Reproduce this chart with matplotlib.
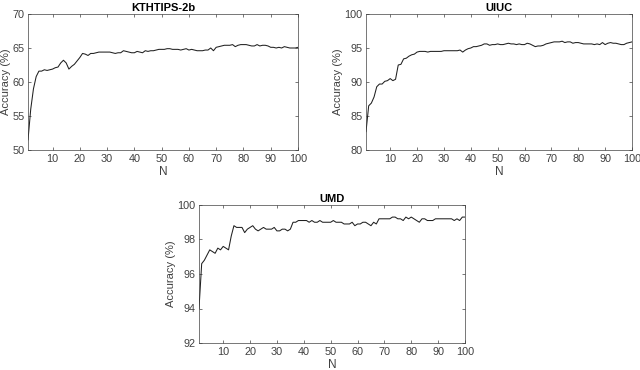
import numpy as np
import matplotlib
matplotlib.use("Agg")
import matplotlib.pyplot as plt

plt.rcParams['font.family'] = ['Liberation Sans', 'DejaVu Sans']

n = np.arange(1, 101)

kth = [51.5, 56.0, 59.0, 60.8, 61.6, 61.6, 61.8, 61.7, 61.8, 61.9,
       62.1, 62.2, 62.8, 63.2, 62.8, 61.9, 62.3, 62.6, 63.1, 63.6,
       64.2, 64.1, 63.9, 64.2, 64.2, 64.3, 64.4, 64.4, 64.4, 64.4,
       64.4, 64.3, 64.2, 64.3, 64.3, 64.6, 64.5, 64.4, 64.3, 64.3,
       64.5, 64.4, 64.3, 64.6, 64.5, 64.6, 64.6, 64.7, 64.8, 64.8,
       64.8, 64.9, 64.9, 64.8, 64.8, 64.8, 64.7, 64.8, 64.9, 64.7,
       64.8, 64.7, 64.6, 64.6, 64.6, 64.7, 64.7, 65.0, 64.6, 65.1,
       65.2, 65.3, 65.4, 65.4, 65.4, 65.5, 65.2, 65.4, 65.5, 65.5,
       65.5, 65.4, 65.3, 65.3, 65.5, 65.3, 65.4, 65.4, 65.3, 65.1,
       65.1, 65.0, 65.1, 65.0, 65.2, 65.1, 65.0, 65.0, 65.0, 65.1]

uiuc = [82.7, 86.5, 86.9, 87.8, 89.3, 89.7, 89.7, 90.1, 90.2, 90.5,
        90.2, 90.4, 92.5, 92.6, 93.4, 93.5, 93.8, 94.0, 94.1, 94.4,
        94.5, 94.5, 94.5, 94.4, 94.5, 94.5, 94.5, 94.5, 94.5, 94.6,
        94.6, 94.6, 94.6, 94.6, 94.6, 94.7, 94.4, 94.7, 94.9, 95.0,
        95.2, 95.2, 95.3, 95.4, 95.6, 95.6, 95.4, 95.5, 95.5, 95.6,
        95.5, 95.5, 95.6, 95.7, 95.6, 95.6, 95.5, 95.6, 95.5, 95.5,
        95.7, 95.6, 95.4, 95.2, 95.3, 95.3, 95.4, 95.6, 95.7, 95.8,
        95.9, 95.9, 95.9, 96.0, 95.8, 95.9, 95.9, 95.7, 95.8, 95.8,
        95.7, 95.6, 95.6, 95.6, 95.6, 95.5, 95.6, 95.5, 95.8, 95.5,
        95.7, 95.8, 95.7, 95.7, 95.6, 95.5, 95.5, 95.7, 95.8, 95.9]

umd = [94.0, 96.6, 96.8, 97.1, 97.4, 97.3, 97.2, 97.5, 97.4, 97.6,
       97.5, 97.4, 98.2, 98.8, 98.7, 98.7, 98.7, 98.4, 98.6, 98.7,
       98.8, 98.6, 98.5, 98.6, 98.7, 98.6, 98.6, 98.6, 98.7, 98.5,
       98.5, 98.6, 98.6, 98.5, 98.6, 99.0, 99.0, 99.1, 99.1, 99.1,
       99.1, 99.0, 99.1, 99.0, 99.0, 99.1, 99.0, 99.0, 99.0, 99.0,
       99.1, 99.0, 99.0, 99.0, 98.9, 98.9, 98.9, 99.0, 98.8, 98.9,
       98.9, 99.0, 99.0, 98.9, 98.8, 99.0, 98.9, 99.2, 99.2, 99.2,
       99.2, 99.2, 99.3, 99.3, 99.2, 99.2, 99.1, 99.3, 99.2, 99.3,
       99.2, 99.1, 99.0, 99.2, 99.2, 99.1, 99.1, 99.1, 99.2, 99.2,
       99.2, 99.2, 99.2, 99.2, 99.2, 99.1, 99.2, 99.1, 99.3, 99.3]

panels = [
    ("KTHTIPS-2b", kth, (50, 70), [50, 55, 60, 65, 70], [28, 150, 298, 14]),
    ("UIUC", uiuc, (80, 100), [80, 85, 90, 95, 100], [366, 150, 632, 14]),
    ("UMD", umd, (92, 100), [92, 94, 96, 98, 100], [199, 343, 465, 205]),
]

W, H = 640, 370
fig = plt.figure(figsize=(W / 100, H / 100), dpi=100)
gray = '#404040'

for title, vals, ylim, yticks, (x0, y0, x1, y1) in panels:
    ax = fig.add_axes([x0 / W, 1 - y0 / H, (x1 - x0) / W, (y0 - y1) / H])
    ax.plot(n, vals, color='#202020', lw=0.75)
    ax.set_xlim(1, 100)
    ax.set_ylim(*ylim)
    ax.set_xticks(np.arange(10, 101, 10))
    ax.set_yticks(yticks)
    ax.tick_params(direction='in', length=2.5, width=0.5, labelsize=7.8,
                   colors=gray, top=True, right=True, pad=3)
    ax.tick_params(axis='y', pad=2.5)
    for s in ax.spines.values():
        s.set_linewidth(0.5)
        s.set_color(gray)
    ax.set_title(title, fontsize=8, fontweight='bold', pad=2)
    ax.set_xlabel('N', fontsize=8.5, color=gray, labelpad=1.5)
    ax.set_ylabel('Accuracy (%)', fontsize=8, color=gray, labelpad=1)

fig.savefig('out.png', dpi=100)
